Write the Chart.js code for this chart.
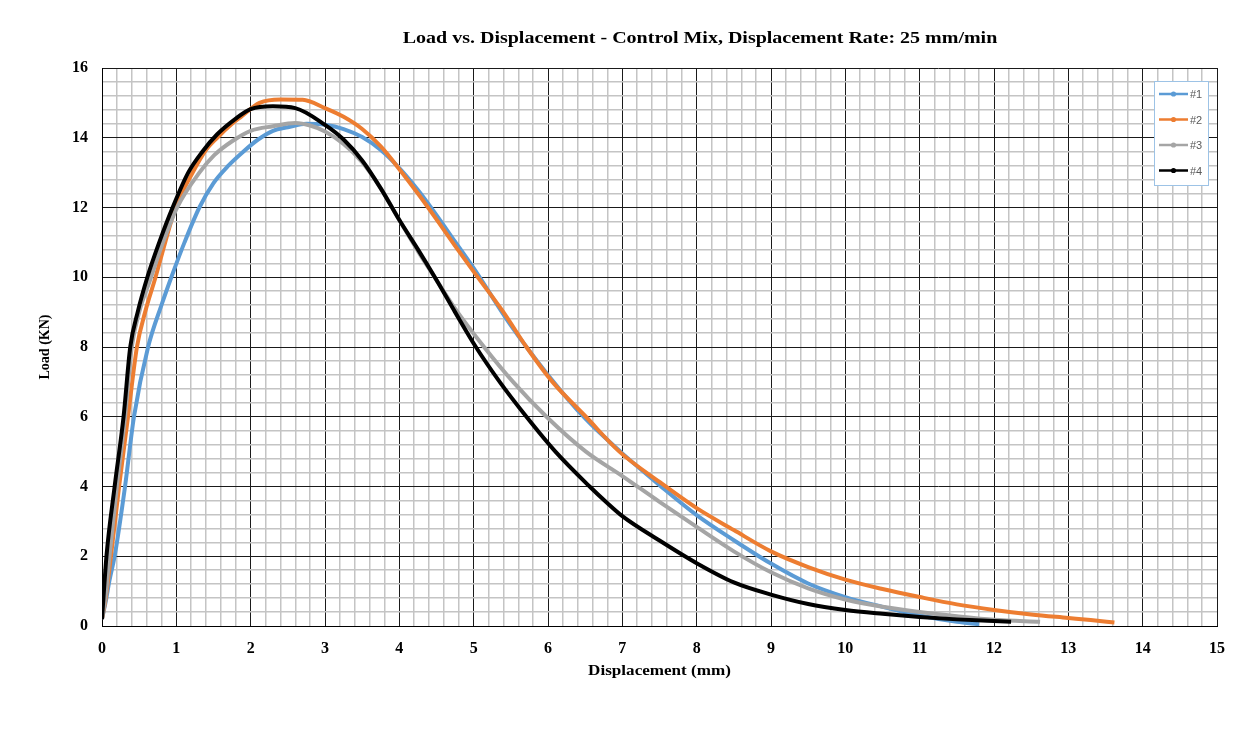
<!DOCTYPE html>
<html>
<head>
<meta charset="utf-8">
<title>Load vs. Displacement</title>
<script src="https://cdn.jsdelivr.net/npm/chart.js@4.4.0/dist/chart.umd.min.js"></script>
<style>
  body { margin: 0; background: #ffffff; }
  #loadChart { display: block; }
</style>
</head>
<body>
<canvas id="loadChart" width="1247" height="731"></canvas>
<script>
//Load vs displacement curves, control mix, 25 mm/min
var chartTitle = "Load vs. Displacement - Control Mix, Displacement Rate: 25 mm/min";
var xTitle = "Displacement (mm)";
var yTitle = "Load (KN)";
var seriesNames = ["#1", "#2", "#3", "#4"];

var disp1 = [0, 0.05, 0.1, 0.17, 0.31, 0.43, 0.62, 0.8, 0.95, 1.11, 1.31, 1.5, 1.7, 1.9, 2.1, 2.3, 2.5, 2.75, 3.0, 3.25, 3.5, 3.75, 4.0, 4.25, 4.5, 4.75, 5.0, 5.5, 6.0, 6.5, 7.0, 7.5, 8.0, 8.5, 9.0, 9.5, 10.0, 10.5, 11.0, 11.5, 11.8];
var load1 = [0.2, 0.7, 1.3, 2.0, 4.0, 6.0, 8.0, 9.2, 10.1, 11.0, 12.0, 12.7, 13.2, 13.6, 13.95, 14.2, 14.3, 14.4, 14.37, 14.25, 14.02, 13.65, 13.13, 12.5, 11.78, 11.02, 10.26, 8.62, 7.2, 5.95, 4.95, 4.04, 3.18, 2.46, 1.79, 1.22, 0.83, 0.55, 0.3, 0.12, 0.05];

var disp2 = [0, 0.05, 0.12, 0.23, 0.35, 0.47, 0.58, 0.72, 0.85, 0.99, 1.22, 1.4, 1.55, 1.75, 1.87, 2.12, 2.4, 2.7, 3.0, 3.25, 3.5, 3.75, 4.0, 4.25, 4.5, 4.75, 5.0, 5.4, 5.71, 6.06, 6.51, 6.96, 7.5, 8.0, 8.5, 9.0, 9.5, 10.0, 10.5, 11.0, 11.5, 12.0, 12.5, 13.0, 13.3, 13.62];
var load2 = [0.2, 0.8, 2.0, 4.0, 6.0, 8.0, 9.0, 10.0, 11.0, 12.0, 13.0, 13.65, 14.0, 14.4, 14.6, 15.0, 15.1, 15.09, 14.85, 14.6, 14.25, 13.75, 13.1, 12.4, 11.66, 10.9, 10.16, 9.0, 8.0, 7.0, 6.0, 5.0, 4.13, 3.38, 2.75, 2.14, 1.69, 1.33, 1.06, 0.83, 0.62, 0.46, 0.33, 0.23, 0.17, 0.1];

var disp3 = [0, 0.05, 0.1, 0.2, 0.31, 0.4, 0.5, 0.66, 0.82, 1.01, 1.31, 1.51, 1.75, 2.0, 2.3, 2.6, 2.8, 3.0, 3.25, 3.5, 3.75, 4.0, 4.25, 4.5, 4.75, 5.14, 5.53, 5.98, 6.51, 7.0, 7.5, 8.0, 8.5, 9.0, 9.5, 10.0, 10.5, 11.0, 11.5, 12.0, 12.62];
var load3 = [0.2, 0.9, 2.0, 4.0, 6.0, 8.0, 9.0, 10.0, 11.0, 12.0, 13.0, 13.5, 13.9, 14.2, 14.33, 14.42, 14.35, 14.18, 13.82, 13.3, 12.55, 11.64, 10.75, 9.92, 9.1, 8.0, 7.0, 6.0, 5.0, 4.3, 3.56, 2.84, 2.14, 1.54, 1.08, 0.76, 0.55, 0.4, 0.28, 0.18, 0.12];

var disp4 = [0, 0.06, 0.17, 0.29, 0.38, 0.48, 0.61, 0.77, 0.95, 1.16, 1.35, 1.55, 1.8, 2.0, 2.3, 2.6, 3.0, 3.25, 3.5, 3.75, 4.0, 4.25, 4.5, 4.75, 5.03, 5.35, 5.71, 6.1, 6.56, 6.8, 7.0, 7.5, 8.0, 8.5, 9.0, 9.5, 10.0, 10.5, 11.0, 11.5, 12.0, 12.23];
var load4 = [0.2, 2.0, 4.0, 6.0, 8.0, 9.0, 10.0, 11.0, 12.0, 13.0, 13.6, 14.1, 14.55, 14.82, 14.9, 14.85, 14.37, 13.95, 13.35, 12.55, 11.64, 10.8, 9.92, 9.0, 8.0, 7.0, 6.0, 5.0, 4.0, 3.52, 3.15, 2.45, 1.8, 1.25, 0.9, 0.63, 0.46, 0.35, 0.26, 0.19, 0.14, 0.12];

var colors = ["#5B9BD5", "#ED7D31", "#A5A5A5", "#000000"];

function toPoints(xs, ys) {
    var pts = [];
    for (var i = 0; i < xs.length; i++) {
        pts.push({ x: xs[i], y: ys[i] });
    }
    return pts;
}

function isMultiple(v, step) {
    var q = v / step;
    return Math.abs(q - Math.round(q)) < 1e-6;
}

var serif = "'Liberation Serif', 'Times New Roman', serif";

// text drawn a little wider than the font, like the exported chart
function wideText(ctx, text, x, y, stretch) {
    ctx.save();
    ctx.translate(x, y);
    ctx.scale(stretch, 1);
    ctx.fillText(text, 0, 0);
    ctx.restore();
}

// white background, titles and the small boxed legend inside the plot
var chartDecor = {
    id: 'chartDecor',
    beforeDraw: function (chart) {
        var ctx = chart.ctx;
        ctx.save();
        ctx.fillStyle = '#ffffff';
        ctx.fillRect(0, 0, chart.width, chart.height);
        ctx.restore();
    },
    afterDraw: function (chart) {
        var ctx = chart.ctx;
        var area = chart.chartArea;
        ctx.save();

        ctx.fillStyle = '#000000';
        ctx.textAlign = 'center';
        ctx.textBaseline = 'middle';
        ctx.font = 'bold 16px ' + serif;
        wideText(ctx, chartTitle, 700, 39, 1.25);
        ctx.font = 'bold 14px ' + serif;
        wideText(ctx, xTitle, (area.left + area.right) / 2, 671, 1.22);

        ctx.save();
        ctx.translate(45, (area.top + area.bottom) / 2);
        ctx.rotate(-Math.PI / 2);
        ctx.fillText(yTitle, 0, 0);
        ctx.restore();

        var boxW = 54, boxH = 104;
        var boxX = area.right - 9 - boxW;
        var boxY = area.top + 13;
        ctx.fillStyle = '#ffffff';
        ctx.fillRect(boxX, boxY, boxW, boxH);
        ctx.strokeStyle = '#9DC3E6';
        ctx.lineWidth = 1;
        ctx.strokeRect(boxX + 0.5, boxY + 0.5, boxW, boxH);

        ctx.font = "11px 'Liberation Sans', Arial, sans-serif";
        ctx.textAlign = 'left';
        chart.data.datasets.forEach(function (ds, i) {
            var yy = boxY + 13 + i * 25.5;
            ctx.strokeStyle = ds.borderColor;
            ctx.lineWidth = 2.5;
            ctx.beginPath();
            ctx.moveTo(boxX + 5, yy);
            ctx.lineTo(boxX + 34, yy);
            ctx.stroke();
            ctx.fillStyle = ds.borderColor;
            ctx.beginPath();
            ctx.arc(boxX + 19.5, yy, 2.6, 0, Math.PI * 2);
            ctx.fill();
            ctx.fillStyle = '#595959';
            ctx.fillText(ds.label, boxX + 36, yy + 1);
        });
        ctx.restore();
    }
};

var xs = [disp1, disp2, disp3, disp4];
var ys = [load1, load2, load3, load4];
var datasets = [];
for (var k = 0; k < seriesNames.length; k++) {
    datasets.push({
        label: seriesNames[k],
        data: toPoints(xs[k], ys[k]),
        borderColor: colors[k],
        backgroundColor: colors[k],
        borderWidth: 4,
        pointRadius: 0,
        showLine: true,
        fill: false,
        cubicInterpolationMode: 'monotone',
        order: seriesNames.length - k
    });
}

new Chart("loadChart", {
    type: 'scatter',
    data: { datasets: datasets },
    plugins: [chartDecor],
    options: {
        responsive: false,
        animation: false,
        layout: {
            padding: { left: 0, right: 30, top: 68, bottom: 45 }
        },
        plugins: {
            legend: { display: false },
            title: { display: false },
            tooltip: { enabled: false }
        },
        scales: {
            x: {
                type: 'linear',
                min: 0,
                max: 15,
                afterFit: function (scale) { scale.height = 60; },
                border: { display: true, color: '#000000', width: 1 },
                grid: {
                    drawTicks: false,
                    color: function (c) { return isMultiple(c.tick.value, 1) ? '#1a1a1a' : '#c4c4c4'; },
                    lineWidth: function (c) { return isMultiple(c.tick.value, 1) ? 1 : 1.5; }
                },
                ticks: {
                    stepSize: 0.2,
                    autoSkip: false,
                    maxRotation: 0,
                    padding: 13,
                    color: '#000000',
                    font: { family: serif, size: 16, weight: 'bold' },
                    callback: function (v) { return isMultiple(v, 1) ? String(Math.round(v)) : ''; }
                },
                title: { display: false }
            },
            y: {
                type: 'linear',
                min: 0,
                max: 16,
                afterFit: function (scale) { scale.width = 102; },
                border: { display: true, color: '#000000', width: 1 },
                grid: {
                    drawTicks: false,
                    color: function (c) { return isMultiple(c.tick.value, 2) ? '#1a1a1a' : '#c4c4c4'; },
                    lineWidth: function (c) { return isMultiple(c.tick.value, 2) ? 1 : 1.5; }
                },
                ticks: {
                    stepSize: 0.4,
                    autoSkip: false,
                    padding: 14,
                    color: '#000000',
                    font: { family: serif, size: 16, weight: 'bold' },
                    callback: function (v) { return isMultiple(v, 2) ? String(Math.round(v)) : ''; }
                },
                title: { display: false }
            }
        }
    }
});
</script>
</body>
</html>
